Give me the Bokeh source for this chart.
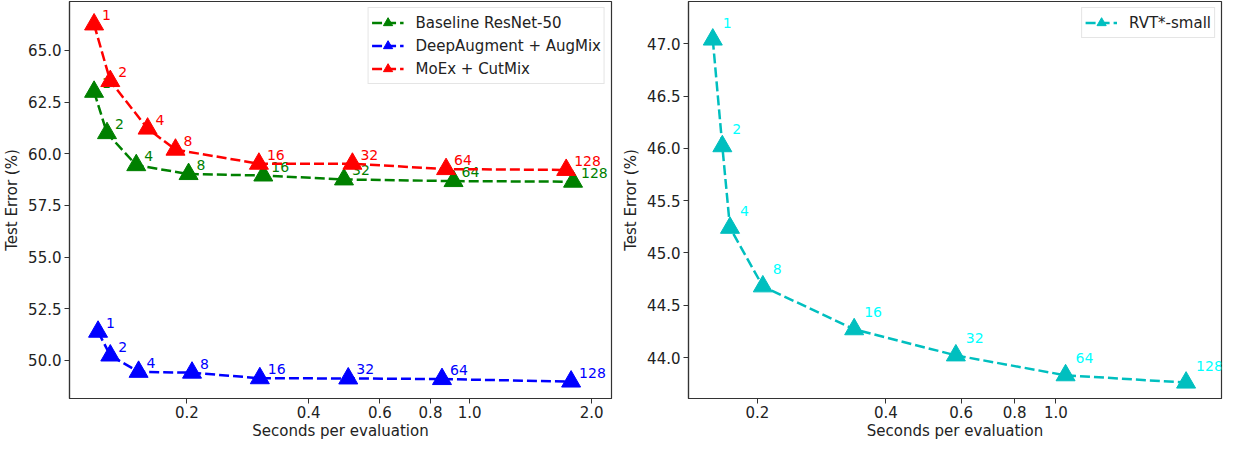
from bokeh.plotting import figure
from bokeh.layouts import row
from bokeh.models import Range1d, FixedTicker, NumeralTickFormatter, ColumnDataSource
from bokeh.embed import file_html
from bokeh.resources import INLINE
from bokeh.core.properties import value

# ---------------- data ----------------
eval_counts = ["1", "2", "4", "8", "16", "32", "64", "128"]

baseline_sec = [0.118, 0.127, 0.150, 0.202, 0.309, 0.489, 0.912, 1.80]
baseline_err = [63.0, 61.0, 59.45, 59.02, 58.95, 58.76, 58.68, 58.65]

deepaug_sec = [0.1207, 0.1294, 0.152, 0.206, 0.303, 0.501, 0.854, 1.78]
deepaug_err = [51.39, 50.24, 49.45, 49.41, 49.14, 49.13, 49.10, 48.98]

moex_sec = [0.118, 0.1294, 0.160, 0.1875, 0.3014, 0.513, 0.874, 1.731]
moex_err = [66.26, 63.52, 61.22, 60.20, 59.52, 59.52, 59.26, 59.22]

rvt_sec = [0.1573, 0.1656, 0.1726, 0.206, 0.337, 0.583, 1.053, 2.016]
rvt_err = [47.04, 46.02, 45.24, 44.68, 44.27, 44.02, 43.83, 43.76]

left_xticks = [0.2, 0.4, 0.6, 0.8, 1.0, 2.0]
left_yticks = [50.0, 52.5, 55.0, 57.5, 60.0, 62.5, 65.0]
right_xticks = [0.2, 0.4, 0.6, 0.8, 1.0]
right_yticks = [44.0, 44.5, 45.0, 45.5, 46.0, 46.5, 47.0]

FONT = "DejaVu Sans"
TXT = "#222222"


def style(p, xticks, yticks):
    p.xaxis.ticker = FixedTicker(ticks=xticks)
    p.yaxis.ticker = FixedTicker(ticks=yticks)
    p.xaxis.formatter = NumeralTickFormatter(format="0.0")
    p.yaxis.formatter = NumeralTickFormatter(format="0.0")
    p.grid.visible = False
    p.outline_line_color = "#333333"
    p.outline_line_width = 1.2
    for ax in (p.xaxis, p.yaxis):
        ax.axis_line_color = "#333333"
        ax.axis_line_width = 1.2
        ax.major_tick_line_color = "#333333"
        ax.major_tick_out = 5
        ax.major_tick_in = 0
        ax.minor_tick_line_color = None
        ax.major_label_text_font = FONT
        ax.major_label_text_font_size = "15px"
        ax.major_label_text_color = TXT
        ax.major_label_standoff = 3
        ax.axis_label_text_font = FONT
        ax.axis_label_text_font_size = "15px"
        ax.axis_label_text_font_style = "normal"
        ax.axis_label_text_color = TXT
        ax.axis_label_standoff = 4
    p.xaxis.axis_label = "Seconds per evaluation"
    p.yaxis.axis_label = "Test Error (%)"
    p.xaxis.major_label_standoff = 2
    p.xaxis.axis_label_standoff = 1


def series(p, xs, ys, color, label, text_color, dx, dy, lw=2.5):
    src = ColumnDataSource(dict(x=xs, y=ys, t=eval_counts))
    p.line("x", "y", source=src, line_color=color, line_width=lw,
           line_dash="10 4", legend_label=label)
    p.scatter("x", "y", source=src, marker="triangle", size=19,
              fill_color=color, line_color=color, legend_label=label)
    p.text("x", "y", text="t", source=src, x_offset=dx, y_offset=dy,
           text_color=text_color, text_font=value(FONT),
           text_font_size="14px", text_align="left", text_baseline="middle")


def legend_style(p):
    lg = p.legend[0]
    lg.location = "top_right"
    lg.label_text_font = FONT
    lg.label_text_font_size = "15px"
    lg.label_text_color = TXT
    lg.border_line_color = "#cccccc"
    lg.border_line_width = 1
    lg.background_fill_alpha = 0.85
    lg.glyph_width = 32
    lg.glyph_height = 23
    lg.label_height = 23
    lg.spacing = 0
    lg.padding = 3
    lg.margin = 6
    lg.label_standoff = 12


left = figure(width=617, height=442, x_axis_type="log",
              x_range=Range1d(0.1026, 2.24), y_range=Range1d(48.16, 67.37),
              output_backend="svg", toolbar_location=None,
              min_border_left=66, min_border_right=6,
              min_border_top=1, min_border_bottom=30)
style(left, left_xticks, left_yticks)
series(left, baseline_sec, baseline_err, "green", "Baseline ResNet-50", "green", 8, -9)
series(left, deepaug_sec, deepaug_err, "blue", "DeepAugment + AugMix", "blue", 8, -9)
series(left, moex_sec, moex_err, "red", "MoEx + CutMix", "red", 8, -9)
legend_style(left)

right = figure(width=606, height=442, x_axis_type="log",
               x_range=Range1d(0.138, 2.44), y_range=Range1d(43.608, 47.404),
               output_backend="svg", toolbar_location=None,
               min_border_left=71, min_border_right=2,
               min_border_top=1, min_border_bottom=30)
style(right, right_xticks, right_yticks)
series(right, rvt_sec, rvt_err, "#00bfbf", "RVT*-small", "#00ffff", 10, -17)
legend_style(right)

layout = row(left, right)
open("out.html", "w").write(file_html(layout, INLINE))
